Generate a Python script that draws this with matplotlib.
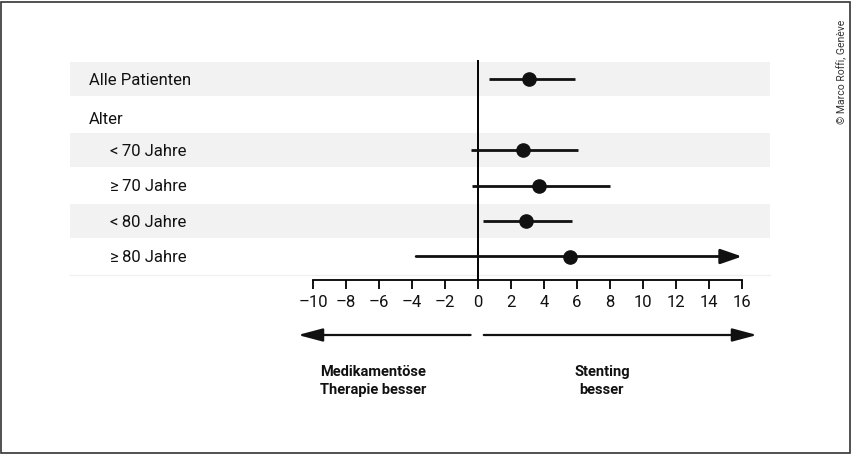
import numpy as np
import matplotlib
matplotlib.use("Agg")
import matplotlib.pyplot as plt
from matplotlib.patches import Rectangle

plt.rcParams['font.family'] = ['Roboto', 'DejaVu Sans']

# rows (top to bottom)
row_labels = ["Alle Patienten", "Alter", "<\u200970 Jahre", "\u2265\u200970 Jahre",
              "<\u200980 Jahre", "\u2265\u200980 Jahre"]
row_indent = [0, 0, 1, 1, 1, 1]
row_pos = [0, 1.1, 2, 3, 4, 5]
shaded_rows = [0, 2, 4]

# estimates (only for rows with data)
est_rows = [0, 2, 3, 4, 5]
est = [3.1, 2.75, 3.7, 2.9, 5.55]
ci_low = [0.65, -0.45, -0.35, 0.3, -3.75]
ci_high = [5.85, 6.05, 8.0, 5.7, 16.0]
arrow_rows = [5]

xticks = np.arange(-10, 17, 2)

fig = plt.figure(figsize=(8.54, 4.54), dpi=100)
W, H = 854, 454
# px = 478 + 16.5 * x ; py = 79 + 35.5 * row
ax = fig.add_axes([313 / W, (H - 280) / H, 429 / W, 220 / H])
ax.set_xlim(-10, 16)
ax.set_ylim((280 - 79) / 35.5, (60 - 79) / 35.5)

for s in ['top', 'left', 'right']:
    ax.spines[s].set_visible(False)
ax.spines['bottom'].set_linewidth(1.3)
ax.set_yticks([])
ax.set_xticks(xticks)
ax.set_xticklabels([str(t).replace('-', '\u2013') for t in xticks])
ax.tick_params(axis='x', direction='out', length=6.5, width=1.3, pad=4,
               labelsize=12, labelcolor='#111111')

# shaded bands
x_band0 = (70 - 478) / 16.5
x_band1 = (770 - 478) / 16.5
for r in shaded_rows:
    ax.add_patch(Rectangle((x_band0, row_pos[r] - 0.49), x_band1 - x_band0, 0.97,
                           facecolor='#f2f2f2', edgecolor='none', zorder=0, clip_on=False))
ax.plot([x_band0, x_band1], [5.53, 5.53], color='#f0f0f0', lw=1, clip_on=False, zorder=0)

# labels
x_lab = (89 - 478) / 16.5
for lab, ind, y in zip(row_labels, row_indent, row_pos):
    ax.text(x_lab + ind * 1.27, y + 0.04, lab, ha='left', va='center', fontsize=12,
            color='#111111', clip_on=False)

ax.axvline(0, color='black', lw=1.4, zorder=2)

for r, m, lo, hi in zip(est_rows, est, ci_low, ci_high):
    y = row_pos[r]
    if r in arrow_rows:
        ax.annotate('', xy=(hi, y), xytext=(lo, y),
                    arrowprops=dict(arrowstyle='-|>,head_length=1.3,head_width=0.45',
                                    color='#111111', lw=2.0, shrinkA=0, shrinkB=0),
                    zorder=3, annotation_clip=False)
    else:
        ax.plot([lo, hi], [y, y], color='#111111', lw=2.0, solid_capstyle='butt', zorder=3)
    ax.plot(m, y, 'o', color='#111111', ms=9.5, zorder=4)

# direction arrows
y_arr = (335 - 79) / 35.5
arrow_kw = dict(arrowstyle='-|>,head_length=1.5,head_width=0.4',
                color='#111111', lw=1.6, shrinkA=0, shrinkB=0)
ax.annotate('', xy=((298 - 478) / 16.5, y_arr), xytext=(-0.45, y_arr),
            arrowprops=arrow_kw, annotation_clip=False)
ax.annotate('', xy=((757 - 478) / 16.5, y_arr), xytext=(0.35, y_arr),
            arrowprops=arrow_kw, annotation_clip=False)

y_txt = (381 - 79) / 35.5
ax.text((373 - 478) / 16.5, y_txt, "Medikament\u00f6se\nTherapie besser", ha='center',
        va='center', fontsize=10.5, fontweight='bold', linespacing=1.35,
        color='#111111', clip_on=False)
ax.text((602 - 478) / 16.5, y_txt, "Stenting\nbesser", ha='center',
        va='center', fontsize=10.5, fontweight='bold', linespacing=1.35,
        color='#111111', clip_on=False)

fig.text(842 / W, (H - 72) / H, "\u00a9 Marco Roffi, Gen\u00e8ve", rotation=90,
         ha='center', va='center', fontsize=7.5, color='#333333')

fig.patches.append(Rectangle((0.5 / W, 1.5 / H), 850 / W, 451 / H, transform=fig.transFigure,
                             facecolor='none', edgecolor='#333333', lw=1.2))

fig.savefig('out.png', dpi=100)
